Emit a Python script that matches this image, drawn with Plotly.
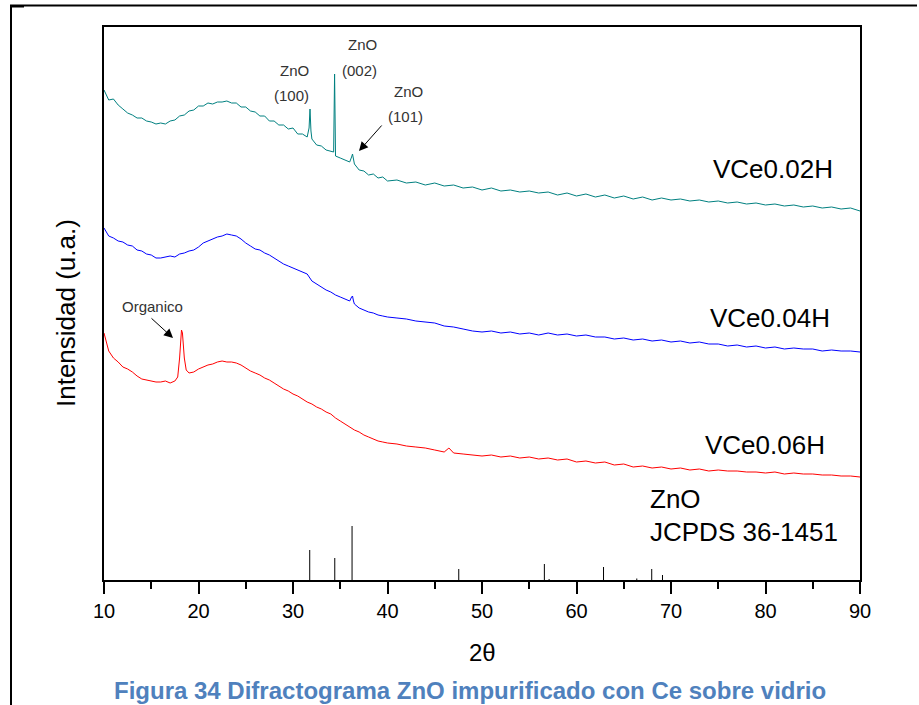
import plotly.graph_objects as go

# ---------------- data ----------------
TWO_THETA = [
    10, 10.5, 11, 11.5, 12, 12.5, 13, 13.5, 14, 14.5,
    15, 15.5, 16, 16.5, 17, 17.5, 18, 18.5, 19, 19.5,
    20, 20.5, 21, 21.5, 22, 22.5, 23, 23.5, 24, 24.5,
    25, 25.5, 26, 26.5, 27, 27.5, 28, 28.5, 29, 29.5,
    30, 30.5, 31, 31.5, 32, 32.5, 33, 33.5, 34, 34.5,
    35, 35.5, 36, 36.5, 37, 37.5, 38, 38.5, 39, 39.5,
    40, 41, 42, 43, 44, 45, 46, 47, 48, 49,
    50, 51, 52, 53, 54, 55, 56, 57, 58, 59,
    60, 61, 62, 63, 64, 65, 66, 67, 68, 69,
    70, 71, 72, 73, 74, 75, 76, 77, 78, 79,
    80, 81, 82, 83, 84, 85, 86, 87, 88, 89,
    90,
]

VCE002_Y = [
    490, 480, 481, 475, 471, 467, 465, 462, 462, 459,
    458, 456, 457, 456, 459, 460, 464, 465, 469, 470,
    474, 474, 477, 476, 478, 478, 479, 477, 477, 473,
    473, 469, 468, 464, 464, 459, 459, 455, 455, 451,
    452, 446, 446, 443, 441, 435, 434, 430, 429, 424,
    422, 420, 418, 416, 410, 409, 405, 406, 402, 403,
    399, 400, 397, 398, 395, 397, 394, 395, 392, 393,
    390, 392, 389, 390, 388, 389, 387, 388, 385, 387,
    384, 386, 383, 385, 382, 384, 381, 383, 380, 382,
    380, 381, 379, 380, 378, 379, 377, 378, 376, 377,
    375, 376, 374, 375, 373, 374, 372, 373, 371, 372,
    369,
]
VCE002_PEAK_X = [31.7, 31.8, 31.9, 34.3, 34.4, 36.2, 36.3, 36.4]
VCE002_PEAK_Y = [452, 471, 449, 428, 506, 423, 426, 421]

VCE004_Y = [
    352, 344, 342, 339, 338, 335, 334, 330, 329, 326,
    325, 322, 322, 323, 324, 323, 326, 327, 329, 330,
    333, 337, 339, 341, 343, 344, 346, 345, 344, 341,
    337, 334, 331, 330, 327, 325, 322, 319, 316, 314,
    312, 310, 308, 306, 299, 296, 293, 290, 288, 285,
    283, 281, 279, 276, 272, 270, 268, 267, 265, 264,
    263, 262, 261, 259, 258, 257, 254, 253, 251, 249,
    248, 249, 247, 248, 246, 247, 245, 247, 245, 246,
    244, 245, 243, 243, 241, 242, 240, 241, 239, 240,
    238, 239, 237, 238, 236, 236, 234, 235, 233, 234,
    232, 233, 231, 232, 231, 231, 229, 230, 229, 229,
    228,
]
VCE004_PEAK_X = [36.2, 36.3, 36.4]
VCE004_PEAK_Y = [283, 284, 279]

VCE006_Y = [
    247, 229, 222, 218, 213, 211, 208, 204, 201, 200,
    199, 198, 198, 199, 197, 199, 222, 222, 207, 208,
    211, 213, 215, 216, 218, 219, 218, 218, 217, 215,
    212, 209, 207, 205, 202, 200, 197, 194, 191, 189,
    186, 184, 181, 178, 176, 173, 171, 168, 166, 162,
    159, 156, 153, 150, 148, 145, 143, 141, 139, 138,
    137, 136, 134, 133, 132, 130, 128, 127, 126, 125,
    124, 125, 123, 124, 122, 123, 121, 122, 120, 121,
    118, 119, 117, 118, 115, 116, 113, 114, 112, 113,
    111, 112, 110, 111, 109, 110, 109, 109, 108, 108,
    107, 108, 106, 107, 106, 106, 105, 105, 104, 104,
    103,
]
VCE006_PEAK_X = [17.8, 18.2, 18.3, 18.7, 46.5]
VCE006_PEAK_Y = [203, 250, 247, 210, 132]

# ZnO reference pattern JCPDS 36-1451 (stick heights in the same a.u.)
JCPDS_2THETA = [31.77, 34.42, 36.25, 47.54, 56.60, 57.1, 62.86, 66.38, 67.96, 69.10]
JCPDS_HEIGHT = [30, 22, 54, 11, 16, 1, 13, 1.5, 11, 5]

SERIES_NAMES = ["VCe0.02H", "VCe0.04H", "VCe0.06H"]
SERIES_COLORS = ["#008080", "#0000FF", "#FF0000"]

X_TICKS = [10, 20, 30, 40, 50, 60, 70, 80, 90]

# ---------------- helpers ----------------
FONT = "Liberation Sans, Arial, sans-serif"
W, H = 919, 705
L, R, T, B = 104, 860, 27, 580          # plot area in pixels
X0, X1 = 10, 90
Y0, Y1 = 0, B - T


def dx(px):
    return X0 + (px - L) * (X1 - X0) / (R - L)


def dy(py):
    return Y0 + (B - py) * (Y1 - Y0) / (B - T)


def px_paper(px):
    return (px - L) / (R - L)


def py_paper(py):
    return (B - py) / (B - T)


def merge(xs, ys, pxs, pys):
    d = dict(zip(xs, ys))
    d.update(dict(zip(pxs, pys)))
    k = sorted(d)
    return k, [d[v] for v in k]


fig = go.Figure()

series = [
    (VCE002_Y, VCE002_PEAK_X, VCE002_PEAK_Y),
    (VCE004_Y, VCE004_PEAK_X, VCE004_PEAK_Y),
    (VCE006_Y, VCE006_PEAK_X, VCE006_PEAK_Y),
]
for (ys, pxs, pys), name, col in zip(series, SERIES_NAMES, SERIES_COLORS):
    xx, yy = merge(TWO_THETA, ys, pxs, pys)
    fig.add_trace(go.Scatter(x=xx, y=yy, mode="lines", name=name,
                             line=dict(color=col, width=1), showlegend=False,
                             hoverinfo="skip"))

sx, sy = [], []
for x, h in zip(JCPDS_2THETA, JCPDS_HEIGHT):
    sx += [x, x, None]
    sy += [0, h, None]
fig.add_trace(go.Scatter(x=sx, y=sy, mode="lines", line=dict(color="black", width=1),
                         showlegend=False, hoverinfo="skip", name="JCPDS 36-1451"))

ann = []


def text(px, py, s, size, color="black", xanchor="center", bold=False, angle=0):
    ann.append(dict(x=px_paper(px), y=py_paper(py), xref="paper", yref="paper",
                    text=("<b>%s</b>" % s) if bold else s, showarrow=False,
                    xanchor=xanchor, yanchor="middle", textangle=angle,
                    font=dict(family=FONT, size=size, color=color)))


# series labels
text(773, 169, SERIES_NAMES[0], 26)
text(770, 318, SERIES_NAMES[1], 26)
text(765, 445, SERIES_NAMES[2], 26)
text(648, 499, "ZnO", 26, xanchor="left")
text(648, 532, "JCPDS 36-1451", 26, xanchor="left")

# peak labels
LBL = "#333333"
text(294, 70, "ZnO", 15, LBL)
text(291, 96, "(100)", 15, LBL)
text(362, 44, "ZnO", 15, LBL)
text(359, 70, "(002)", 15, LBL)
text(408, 91, "ZnO", 15, LBL)
text(405, 116, "(101)", 15, LBL)
text(152, 306, "Organico", 15, LBL)

# arrows
for (tx, ty, hx, hy) in [(383, 124, 359, 151), (150, 317, 173, 338)]:
    ann.append(dict(x=dx(hx), y=dy(hy), ax=dx(tx), ay=dy(ty), xref="x", yref="y",
                    axref="x", ayref="y", showarrow=True, arrowhead=2, arrowsize=1.8,
                    arrowwidth=1, arrowcolor="black", text=""))

# axis titles and caption
text(66, 313, "Intensidad (u.a.)", 26, angle=-90)
text(482, 652, "2θ", 24)
text(470, 690, "Figura 34 Difractograma ZnO impurificado con Ce sobre vidrio", 24,
     color="#4F81BD", bold=True)

shapes = [
    # outer page frame (left and top rules)
    dict(type="line", xref="paper", yref="paper", x0=px_paper(11), x1=px_paper(11),
         y0=py_paper(5), y1=py_paper(706), line=dict(color="black", width=2)),
    dict(type="line", xref="paper", yref="paper", x0=px_paper(10), x1=px_paper(917),
         y0=py_paper(5.5), y1=py_paper(5.5), line=dict(color="black", width=2)),
    dict(type="line", xref="paper", yref="paper", x0=px_paper(10), x1=px_paper(24),
         y0=py_paper(6.5), y1=py_paper(6.5), line=dict(color="black", width=2)),
]

fig.update_layout(
    width=W, height=H,
    margin=dict(l=L, r=W - R, t=T, b=H - B),
    paper_bgcolor="white", plot_bgcolor="white",
    annotations=ann, shapes=shapes,
    xaxis=dict(range=[X0, X1], tickvals=X_TICKS, ticktext=[str(v) for v in X_TICKS],
               ticks="outside", ticklen=12, tickwidth=2, tickcolor="black",
               minor=dict(dtick=5, tick0=10, ticks="outside", ticklen=7, tickwidth=2,
                          tickcolor="black", showgrid=False),
               showline=True, linewidth=2, linecolor="black", mirror=True,
               showgrid=False, zeroline=False,
               tickfont=dict(family=FONT, size=20, color="black")),
    yaxis=dict(range=[Y0, Y1], showticklabels=False, ticks="", showline=True,
               linewidth=2, linecolor="black", mirror=True, showgrid=False,
               zeroline=False),
)

fig.write_html("out.html")
